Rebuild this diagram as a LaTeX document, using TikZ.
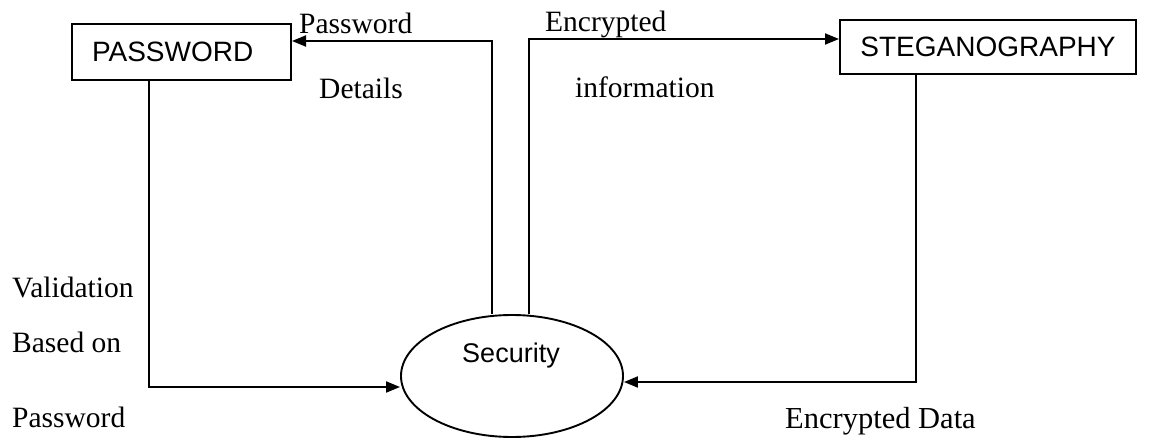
\documentclass[tikz,border=0pt]{standalone}
\usepackage{fontspec}
\setmainfont{Liberation Serif}
\setsansfont{Liberation Sans}
\usetikzlibrary{arrows.meta,shapes.geometric}
\begin{document}
\begin{tikzpicture}[x=1pt,y=-1pt,
  flow/.style={line width=1.9pt},
  arrowto/.style={flow,-{Triangle[length=14pt,width=11pt]}},
  box/.style={draw,line width=2pt,font=\sffamily\fontsize{28}{28}\selectfont,inner sep=0pt},
  lbl/.style={font=\fontsize{29.5}{29.5}\selectfont,anchor=base west,inner sep=0pt}]
\useasboundingbox (0,0) rectangle (1175,439);

% processes
\node[box,minimum width=219pt,minimum height=56pt,text width=179pt,align=left,inner xsep=20pt] (pw) at (181.5,52) {PASSWORD};
\node[box,minimum width=296pt,minimum height=54pt] (st) at (988,47) {STEGANOGRAPHY};
\node[draw,ellipse,line width=1.9pt,minimum width=222pt,minimum height=122pt,inner sep=0pt] (sec) at (512,376) {};
\node[font=\sffamily\fontsize{27}{27}\selectfont,inner sep=0pt] (secT) at (511,356) {Security};

% bends of the flows
\coordinate (c1) at (149,387);
\coordinate (d1) at (492,41);
\coordinate (e1) at (529,39);
\coordinate (s1) at (916,382);

% flows
\draw[arrowto] (pw.south -| c1) -- (c1) -- (sec.west |- c1);
\draw[arrowto] (d1 |- sec.north) -- (d1) -- (pw.east |- d1);
\draw[arrowto] (e1 |- sec.north) -- (e1) -- (st.west |- e1);
\draw[arrowto] (st.south -| s1) -- (s1) -- (sec.east |- s1);

% flow labels
\node[lbl] (l1) at (299,33) {Password};
\node[lbl] (l2) at (319,98) {Details};
\node[lbl] (l3) at (545,31) {Encrypted};
\node[lbl] (l4) at (575,97) {information};
\node[lbl] (l5) at (12,297) {Validation};
\node[lbl] (l6) at (12,352) {Based on};
\node[lbl] (l7) at (12,427) {Password};
\node[lbl,font=\fontsize{30.5}{30.5}\selectfont] (l8) at (785,428) {Encrypted Data};
\end{tikzpicture}
\end{document}
